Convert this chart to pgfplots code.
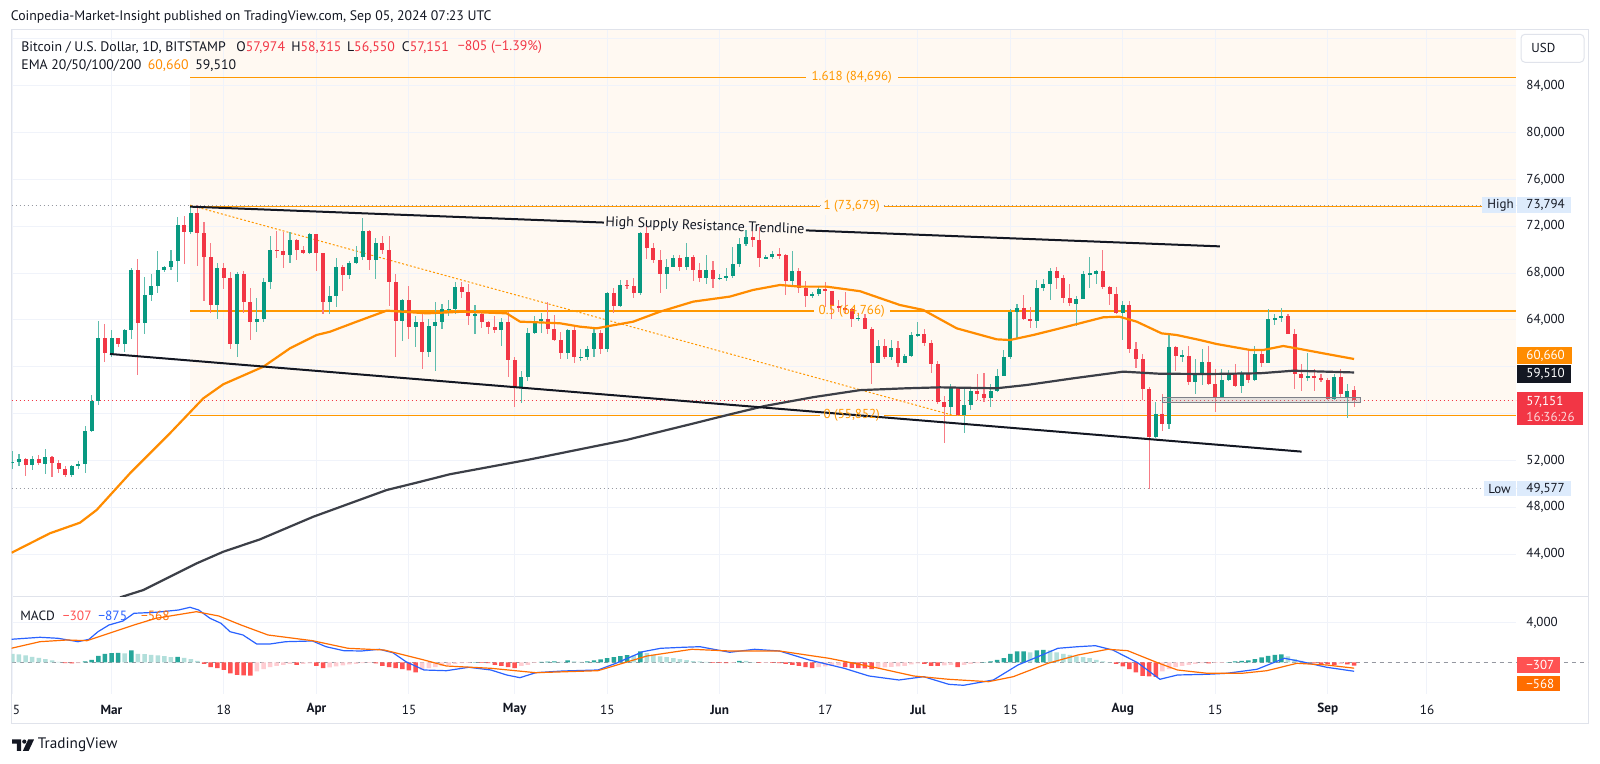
\documentclass[border=0pt]{standalone}
\usepackage{fontspec}
\setmainfont{PT Sans}
\usepackage{pgfplots}
\usepackage{pgfplotstable}
\pgfplotsset{compat=1.18}

\definecolor{txt}{HTML}{131722}
\definecolor{gridc}{HTML}{F0F3FA}
\definecolor{framec}{HTML}{E0E3EB}
\definecolor{cgreen}{HTML}{089981}
\definecolor{cred}{HTML}{F23645}
\definecolor{emaor}{HTML}{FF8C00}
\definecolor{fibor}{HTML}{FF9800}
\definecolor{emadk}{HTML}{3C3F47}
\definecolor{fibbg}{HTML}{FFF9F2}
\definecolor{hlbg}{HTML}{DDEBFC}
\definecolor{dotc}{HTML}{9598A1}
\definecolor{boxc}{HTML}{7E8088}
\definecolor{macdb}{HTML}{2962FF}
\definecolor{macds}{HTML}{FF6D00}
\definecolor{hpu}{HTML}{26A69A}
\definecolor{hpl}{HTML}{B2DFDB}
\definecolor{hnd}{HTML}{FF5252}
\definecolor{hnu}{HTML}{FFCDD2}

\newcommand\fs[1]{\fontsize{#1}{#1}\selectfont}

% daily candles, d = days since Mar 1 2024, k = 1 up / 0 down
\pgfplotstableread{
d o h l c k
-15 51800 52800 51300 51900 1
-14 51900 52550 51500 52100 1
-13 52100 52200 50650 51650 0
-12 51650 52350 51200 52100 1
-11 52100 52450 51600 51800 0
-10 51700 52950 50800 52250 1
-9 52250 52350 50600 51800 0
-8 51800 52000 50900 51250 0
-7 51250 51500 50550 50750 0
-6 50750 51650 50550 51550 1
-5 51550 51950 51300 51730 1
-4 51730 54900 50900 54480 1
-3 54480 57550 54450 57050 1
-2 57050 63900 56700 62450 1
-1 62450 63650 60400 61180 0
0 61180 63100 60800 62440 1
1 62440 62450 61700 61980 0
2 61980 63200 61300 63130 1
3 63130 68450 62400 68300 1
4 68300 69170 59300 63750 0
5 63750 67650 62800 66100 1
6 66100 67950 65600 66900 1
7 66900 69900 66300 68300 1
8 68300 68600 68100 68500 1
9 68500 70000 68300 69000 1
10 69000 72800 67200 72100 1
11 72100 72900 68800 71500 0
12 71500 73650 71300 73100 1
13 73100 73794 68600 71400 0
14 71400 72400 65600 69400 0
15 69400 70600 64600 65300 0
16 65300 68900 64100 68400 1
17 68400 68900 66600 67600 0
18 67600 68100 61500 61900 0
19 61900 68050 60800 67900 1
20 67900 68200 64600 65500 0
21 65500 66700 62300 63800 0
22 63800 65900 63000 64100 1
23 64100 67600 63800 67200 1
24 67200 71200 66600 70000 1
25 70000 71600 69300 69900 0
26 69900 71500 68400 69500 0
27 69500 71500 68900 70800 1
28 70800 70900 69100 70000 0
29 70000 70300 69600 69700 0
30 69700 71400 69600 71300 1
31 71300 71300 68200 69700 0
32 69700 69700 64500 65500 0
33 65500 66900 64500 66000 1
34 66000 69300 65100 68500 1
35 68500 68700 66500 67800 0
36 67800 69000 67500 68900 1
37 68900 70300 68800 69400 1
38 69400 72700 69100 71600 1
39 71600 71700 68300 69100 0
40 69100 71000 67500 70600 1
41 70600 71200 69600 70000 0
42 70000 71200 65200 67200 0
43 67200 67900 60800 63900 0
44 63900 65800 62200 65700 1
45 65700 66900 62400 63400 0
46 63400 64300 61700 63800 1
47 63800 64500 59800 61300 0
48 61300 64100 60800 63500 1
49 63500 65500 59600 63800 1
50 63800 65400 63200 64900 1
51 64900 65700 64300 64950 1
52 64950 67200 64500 66800 1
53 66800 67200 65900 66400 0
54 66400 67100 63600 64300 0
55 64300 65300 62800 64500 1
56 64500 64800 63300 63800 0
57 63800 63900 62800 63400 0
58 63400 64300 62900 63100 0
59 63100 64200 61800 63800 1
60 63800 64700 59100 60600 0
61 60600 60800 56550 58300 0
62 58300 59600 56900 59100 1
63 59100 63300 58800 62900 1
64 62900 64300 62800 63900 1
65 63900 64600 62900 64050 1
66 64050 65500 62800 63200 0
67 63200 64400 62200 62300 0
68 62300 63000 60700 61200 0
69 61200 63200 60700 63100 1
70 63100 63400 60300 60800 0
71 60800 61500 60500 60850 1
72 60850 61800 60600 61500 1
73 61500 63400 60800 62900 1
74 62900 63100 61100 61500 0
75 61500 66400 61300 66300 1
76 66300 66700 64600 65200 0
77 65200 67400 65100 67000 1
78 67000 67400 66600 66900 0
79 66900 67600 65900 66300 0
80 66300 71500 66100 71400 1
81 71400 71900 69200 70100 0
82 70100 70600 68900 69100 0
83 69100 70000 66300 67900 0
84 67900 69200 66600 68500 1
85 68500 69500 68500 69300 1
86 69300 69500 68200 68500 0
87 68500 70600 68300 69400 1
88 69400 69500 67300 68300 0
89 68300 68900 67200 67600 0
90 67600 69500 67100 68300 1
91 68300 69000 66700 67500 0
92 67500 67900 67400 67600 1
93 67600 68400 67300 67750 1
94 67750 70200 67600 68800 1
95 68800 71000 68500 70500 1
96 70500 71700 70300 71100 1
97 71100 71600 70200 70800 0
98 70800 71900 68500 69300 0
99 69300 69500 69200 69350 1
100 69350 69900 69200 69600 1
101 69600 70100 69200 69500 0
102 69500 69600 66100 67300 0
103 67300 69900 66900 68200 1
104 68200 68400 66300 66700 0
105 66700 67300 65100 66000 0
106 66000 66400 65900 66200 1
107 66200 66900 66000 66600 1
108 66600 67200 65100 66500 0
109 66500 66500 64100 65200 0
110 65200 65700 64700 65000 0
111 65000 66400 64500 64900 0
112 64900 65000 63400 64100 0
113 64100 64500 63900 64200 1
114 64200 64500 63200 63200 0
115 63200 63400 58500 60300 0
116 60300 62300 60300 61800 1
117 61800 62400 60700 60800 0
118 60800 62300 60600 61600 1
119 61600 62200 60000 60300 0
120 60300 61100 60300 60900 1
121 60900 63000 60800 62700 1
122 62700 63800 62500 62800 1
123 62800 63200 61800 62000 0
124 62000 62300 59500 60200 0
125 60200 60500 56800 57000 0
126 57000 57500 53500 56600 0
127 56600 58500 56000 58200 1
128 58200 58200 55800 55900 0
129 55900 58200 54300 56700 1
130 56700 58300 56300 57900 1
131 57900 59400 57200 57700 0
132 57700 59500 57000 57300 0
133 57300 58500 56600 57900 1
134 57900 59800 57800 59200 1
135 59200 61400 59200 60800 1
136 60800 64900 60700 64700 1
137 64700 65400 62400 65000 1
138 65000 66100 64000 64100 0
139 64100 65100 63300 63900 0
140 63900 67400 63300 66700 1
141 66700 67500 66500 67100 1
142 67100 68400 65700 68200 1
143 68200 68500 66600 67600 0
144 67600 67800 65400 65900 0
145 65900 67100 65200 65400 0
146 65400 66000 63500 65800 1
147 65800 68200 65800 67900 1
148 67900 69400 66700 67950 1
149 67950 68300 67100 68200 1
150 68200 70000 66600 66800 0
151 66800 66900 65300 66200 0
152 66200 66800 64500 64600 0
153 64600 65600 62300 65300 1
154 65300 65600 61200 61500 0
155 61500 62100 59900 60700 0
156 60700 61100 57200 58100 0
157 58100 58300 49577 54000 0
158 54000 57000 53900 56000 1
159 56000 57700 54500 55100 0
160 55100 62700 54700 61700 1
161 61700 61800 59600 60900 0
162 60900 61400 60400 60950 1
163 60950 61800 58400 58700 0
164 58700 60700 57700 59300 1
165 59300 61500 58400 60400 1
166 60400 61800 58400 58500 0
167 58500 59800 56100 57450 0
168 57450 59800 57400 58850 1
169 58850 59700 58800 59400 1
170 59400 60200 58300 58350 0
171 58350 59600 57800 59400 1
172 59400 61400 58600 58900 0
173 58900 61800 58800 61100 1
174 61100 61400 60000 60350 0
175 60350 64900 60300 64050 1
176 64050 64500 63600 64150 1
177 64150 65000 63800 64300 1
178 64300 64500 62800 62800 0
179 62800 63200 58100 59400 0
180 59400 60200 57900 59000 0
181 59000 61200 58800 59200 1
182 59200 59800 57900 59000 0
183 59000 59400 58700 58900 0
184 58900 59000 57200 57250 0
185 57250 59400 57200 59100 1
186 59100 59800 57400 57650 0
187 57400 58500 55600 57900 1
188 57974 58315 56550 57151 0
}\candles

\pgfplotstableread{
d v
-15.10 44120
-9.30 45780
-4.77 46680
-2.24 47770
2.80 50900
8.85 54320
13.89 57300
16.91 58500
22.97 60000
27.00 61570
31.04 62710
33.06 62990
37.10 63850
41.63 64790
47.69 64560
53.22 64700
59.79 64560
61.80 63850
65.84 63760
67.85 63710
70.88 63420
73.40 63280
78.94 63850
82.98 64700
88.02 65560
93.57 65990
97.10 66560
101.13 66980
104.16 66840
108.20 66840
113.24 66450
119.29 65270
122.81 64850
127.87 63280
133.92 62340
135.93 62280
139.46 62710
144.51 63420
150.05 64220
152.50 64270
155.10 63850
158.88 62850
161.15 62710
164.68 62280
167.20 61940
172.30 61430
174.25 61430
177.28 61770
179.30 61570
183.84 61090
188.00 60660
}\emafifty

\pgfplotstableread{
d v
1.29 40300
4.81 40930
12.89 43210
16.91 44200
22.47 45260
30.53 47190
36.08 48330
41.63 49470
46.17 50100
51.21 50820
63.46 52100
70.88 52950
77.94 53750
88.02 55150
94.07 56000
98.87 56650
106.17 57400
113.24 58000
120.30 58160
125.34 58240
133.92 58160
138.46 58440
145.51 59010
153.07 59580
158.62 59400
166.19 59380
173.75 59440
178.79 59660
188.00 59510
}\ematwo

\pgfplotstableread{
d v
-15.17 2320
-10.82 2520
-8.09 2420
-5.07 2080
-3.40 2320
-2.04 3080
-0.38 3750
1.74 4150
3.40 4920
6.73 5020
10.15 5250
11.88 5520
13.19 5250
14.90 4420
16.57 3920
17.93 3080
19.89 2750
21.97 1850
23.98 1850
26.35 2080
30.41 2150
32.45 1580
35.14 1180
37.84 1150
40.54 1320
42.57 980
44.55 80
47.28 -750
50.67 -820
54.05 -480
57.41 -750
59.79 -1250
61.80 -1520
64.18 -1020
68.23 -850
73.60 -750
76.32 -80
80.39 1080
83.09 1420
86.46 1520
89.03 1580
93.54 1020
97.29 1320
101.06 1150
105.58 250
110.85 -580
114.60 -1350
119.14 -1750
122.89 -1420
126.66 -2180
128.91 -2280
133.42 -1750
137.14 -250
140.17 580
143.19 1420
146.22 1580
148.85 1680
151.48 1250
155.25 -20
158.62 -1680
161.27 -1250
165.79 -1180
168.76 -1080
173.30 -680
177.46 420
180.09 80
183.86 -480
188.00 -875
}\macdline

\pgfplotstableread{
d v
-15.17 1420
-10.82 2080
-6.73 2250
-3.71 2180
3.40 3750
6.73 4420
12.84 5080
16.23 4650
19.59 3750
23.68 2750
30.41 2180
35.78 1420
41.23 1250
47.28 250
50.67 -350
57.41 -580
64.18 -1020
73.60 -820
81.01 650
87.82 1320
93.54 1150
101.06 1150
108.55 420
116.11 -580
121.38 -1350
126.66 -1680
132.68 -1920
136.43 -1420
141.68 -80
146.22 750
150.74 1320
153.74 1180
158.26 -20
161.27 -750
165.79 -1080
171.03 -1080
174.81 -820
179.35 -80
183.86 -250
188.00 -568
}\signal

% histogram, k: 1 up above zero, 2 falling above zero, 3 falling below zero, 4 rising below zero
\pgfplotstableread{
d v k
-15 870 2
-14 800 2
-13 700 2
-12 570 2
-11 470 2
-10 330 2
-9 200 2
-8 70 2
-7 -70 3
-6 -100 3
-5 -70 4
-4 100 1
-3 270 1
-2 670 1
-1 870 1
0 930 1
1 950 1
2 900 2
3 1200 1
4 870 2
5 830 2
6 770 2
7 700 2
8 630 2
9 530 2
10 560 1
11 470 2
12 330 2
13 170 2
14 -130 3
15 -470 3
16 -570 3
17 -730 3
18 -1100 3
19 -1230 3
20 -1300 3
21 -1320 3
22 -900 4
23 -670 4
24 -470 4
25 -330 4
26 -230 4
27 -130 4
28 -230 3
29 -130 4
30 -100 4
31 -330 3
32 -570 3
33 -500 4
34 -400 4
35 -300 4
36 -200 4
37 -130 4
38 -70 4
39 -30 4
40 -100 3
41 -330 3
42 -470 3
43 -570 3
44 -670 3
45 -800 3
46 -1000 3
47 -730 4
48 -570 4
49 -470 4
50 -330 4
51 -230 4
52 -130 4
53 -70 4
54 -30 4
55 30 1
56 -30 3
57 -70 3
58 -230 3
59 -330 3
60 -470 3
61 -570 3
62 -330 4
63 -230 4
64 -30 4
65 70 1
66 80 1
67 100 1
68 70 2
69 200 1
70 100 2
71 70 2
72 100 1
73 200 1
74 300 1
75 430 1
76 530 1
77 630 1
78 730 1
79 700 2
80 1100 1
81 930 2
82 770 2
83 600 2
84 530 2
85 430 2
86 330 2
87 230 2
88 130 2
89 100 2
90 70 2
91 -30 3
92 -50 3
93 -60 3
94 -30 4
95 170 1
96 150 2
97 30 2
98 -30 3
99 -30 4
100 -40 3
101 -70 3
102 -130 3
103 -230 3
104 -330 3
105 -470 3
106 -570 3
107 -470 4
108 -400 4
109 -330 4
110 -300 4
111 -470 3
112 -530 3
113 -570 3
114 -600 3
115 -670 3
116 -570 4
117 -500 4
118 -430 4
119 -400 4
120 -330 4
121 -200 4
122 -100 4
123 -150 3
124 -330 3
125 -340 3
126 -300 4
127 -250 4
128 -470 3
129 -230 4
130 -130 4
131 -70 4
132 30 1
133 100 1
134 270 1
135 430 1
136 870 1
137 1100 1
138 1120 1
139 1000 2
140 1200 1
141 1270 1
142 1200 2
143 1000 2
144 870 2
145 770 2
146 600 2
147 530 2
148 430 2
149 270 2
150 100 2
151 30 2
152 -130 3
153 -400 3
154 -670 3
155 -1000 3
156 -1330 3
157 -1400 3
158 -1450 3
159 -900 4
160 -670 4
161 -470 4
162 -330 4
163 -230 4
164 -130 4
165 -70 4
166 -80 3
167 -50 4
168 -30 4
169 30 1
170 100 1
171 170 1
172 200 1
173 330 1
174 500 1
175 670 1
176 770 1
177 800 1
178 600 2
179 330 2
180 170 2
181 30 2
182 -70 3
183 -130 3
184 -170 3
185 -230 3
186 -130 4
187 -200 3
188 -307 3
}\hist

\pgfplotsset{
  wick/.style={draw=none, error bars/.cd, y dir=both, y explicit, error mark=none,
    error bar style={draw=#1, line width=0.55pt}},
  body/.style={draw=none, error bars/.cd, y dir=both, y explicit, error mark=none,
    error bar style={draw=#1, line width=2pt}},
  hbar/.style={ybar, bar width=0.68, bar shift=0pt, fill=#1, draw=none},
}

\begin{document}
\begin{tikzpicture}[x=0.5pt,y=0.5pt]
\fill[white] (0,0) rectangle (1600,764);
% fib retracement zone
\fill[fibbg] (190,764-30.5) rectangle (1516,764-415.3);
\draw[framec, line width=0.5pt] (11.7,764-30) rectangle (1588,764-724);
\draw[framec, line width=0.5pt] (11.7,764-597) -- (1588,764-597);

% ---------------- price panel ----------------
\begin{axis}[
  at={(5.85pt,83.5pt)}, anchor=south west,
  width=752.15pt, height=283.25pt, scale only axis,
  xmin=-15.1, xmax=212.5, ymin=40336, ymax=88714,
  axis line style={draw=none},
  scaled ticks=false,
  xtick={-15,0,17,31,45,61,75,92,108,122,136,153,167,184,199},
  ytick={44000,48000,...,88000},
  xticklabels={}, yticklabels={},
  major tick length=0pt,
  xmajorgrids, ymajorgrids,
  grid style={draw=gridc, line width=0.5pt},
]
% high / low / last price lines
\addplot[dotc, line width=0.5pt, dash pattern=on 0.6pt off 1.4pt] coordinates {(-15.1,73794) (212.5,73794)};
\addplot[dotc, line width=0.5pt, dash pattern=on 0.6pt off 1.4pt] coordinates {(-15.1,49577) (212.5,49577)};
\addplot[cred, line width=0.5pt, dash pattern=on 0.6pt off 1.4pt] coordinates {(-15.1,57151) (212.5,57151)};

% fib levels
\addplot[fibor, line width=0.75pt] coordinates {(11.88,84696) (105.08,84696)};
\addplot[fibor, line width=0.75pt] coordinates {(119.0,84696) (212.5,84696)};
\addplot[fibor, line width=0.75pt] coordinates {(11.88,73679) (107.2,73679)};
\addplot[fibor, line width=0.75pt] coordinates {(116.9,73679) (212.5,73679)};
\addplot[fibor, line width=0.75pt] coordinates {(11.88,64766) (106.3,64766)};
\addplot[fibor, line width=0.75pt] coordinates {(117.8,64766) (212.5,64766)};
\addplot[fibor, line width=0.75pt] coordinates {(11.88,55852) (107.2,55852)};
\addplot[fibor, line width=0.75pt] coordinates {(116.9,55852) (212.5,55852)};
\addplot[fibor, line width=0.5pt, dash pattern=on 1pt off 1pt] coordinates {(11.88,73794) (127.3,55852)};

% candles: wicks then bodies
\addplot[restrict expr to domain={\thisrow{k}}{0.5:1.5}, wick=cgreen!65]
  table[x=d, y expr={(\thisrow{h}+\thisrow{l})/2}, y error expr={(\thisrow{h}-\thisrow{l})/2}] {\candles};
\addplot[restrict expr to domain={\thisrow{k}}{-0.5:0.5}, wick=cred!65]
  table[x=d, y expr={(\thisrow{h}+\thisrow{l})/2}, y error expr={(\thisrow{h}-\thisrow{l})/2}] {\candles};
\addplot[restrict expr to domain={\thisrow{k}}{0.5:1.5}, body=cgreen]
  table[x=d, y expr={(\thisrow{o}+\thisrow{c})/2}, y error expr={max(abs(\thisrow{c}-\thisrow{o})/2,45)}] {\candles};
\addplot[restrict expr to domain={\thisrow{k}}{-0.5:0.5}, body=cred]
  table[x=d, y expr={(\thisrow{o}+\thisrow{c})/2}, y error expr={max(abs(\thisrow{c}-\thisrow{o})/2,45)}] {\candles};

% moving averages
\addplot[emadk, line width=1.1pt] table[x=d, y=v] {\ematwo};
\addplot[emaor, line width=1.1pt] table[x=d, y=v] {\emafifty};

% trendlines
\addplot[txt, line width=1pt] coordinates {(11.88,73670) (74.51,72311)};
\addplot[txt, line width=1pt] coordinates {(105.07,71644) (167.68,70278)};
\addplot[txt, line width=1pt] coordinates {(-0.23,61090) (180.06,52750)};

% support box
\draw[draw=boxc, fill=dotc, fill opacity=0.25, line width=0.7pt] (axis cs:159,56930) rectangle (axis cs:189,57390);

\node[text=fibor, font=\fs{6.5pt}] at (axis cs:112,84696) {1.618 (84,696)};
\node[text=fibor, font=\fs{6.5pt}, fill=fibbg, inner sep=1pt] at (axis cs:112,73679) {1 (73,679)};
\node[text=fibor, font=\fs{6.5pt}] at (axis cs:112,64766) {0.5 (64,766)};
\node[text=fibor, font=\fs{6.5pt}] at (axis cs:112,55852) {0 (55,852)};
\node[text=txt, font=\fs{7pt}, rotate=-2.2] at (axis cs:89.8,71977) {High Supply Resistance Trendline};
\end{axis}

% ---------------- MACD panel ----------------
\begin{axis}[
  at={(5.85pt,35pt)}, anchor=south west,
  width=752.15pt, height=48.5pt, scale only axis,
  xmin=-15.1, xmax=212.5, ymin=-3150, ymax=6550,
  axis line style={draw=none},
  scaled ticks=false,
  xtick={-15,0,17,31,45,61,75,92,108,122,136,153,167,184,199},
  ytick={4000},
  xticklabels={}, yticklabels={},
  major tick length=0pt,
  xmajorgrids, ymajorgrids,
  grid style={draw=gridc, line width=0.5pt},
]
\addplot[dotc, line width=0.5pt, dash pattern=on 2pt off 2pt] coordinates {(-15.1,0) (212.5,0)};
\addplot[restrict expr to domain={\thisrow{k}}{0.5:1.5}, hbar=hpu] table[x=d, y=v] {\hist};
\addplot[restrict expr to domain={\thisrow{k}}{1.5:2.5}, hbar=hpl] table[x=d, y=v] {\hist};
\addplot[restrict expr to domain={\thisrow{k}}{2.5:3.5}, hbar=hnd] table[x=d, y=v] {\hist};
\addplot[restrict expr to domain={\thisrow{k}}{3.5:4.5}, hbar=hnu] table[x=d, y=v] {\hist};
\addplot[macdb, line width=0.6pt] table[x=d, y=v] {\macdline};
\addplot[macds, line width=0.6pt] table[x=d, y=v] {\signal};
\end{axis}

\draw[dotc, line width=0.5pt, dash pattern=on 2pt off 2pt] (1516,764-662.5) -- (1588,764-662.5);

% ---------------- header ----------------
\begin{scope}[every node/.style={anchor=west, inner sep=0pt, text=txt}]
\node[font=\fs{6.9pt}] at (10.5,764-17) {Coinpedia-Market-Insight published on TradingView.com, Sep 05, 2024 07:23 UTC};
\node[font=\fs{6.9pt}] at (21,764-47.5) {Bitcoin / U.S. Dollar, 1D, BITSTAMP};
\node[font=\fs{6.9pt}] at (236,764-47.5) {O\textcolor{cred}{57,974}};
\node[font=\fs{6.9pt}] at (291,764-47.5) {H\textcolor{cred}{58,315}};
\node[font=\fs{6.9pt}] at (346.7,764-47.5) {L\textcolor{cred}{56,550}};
\node[font=\fs{6.9pt}] at (401.5,764-47.5) {C\textcolor{cred}{57,151}};
\node[font=\fs{6.9pt}, text=cred] at (457.5,764-47.5) {−805 (−1.39\%)};
\node[font=\fs{6.9pt}] at (21,764-65.7) {EMA 20/50/100/200};
\node[font=\fs{6.9pt}, text=emaor] at (147.5,764-65.7) {60,660};
\node[font=\fs{6.9pt}] at (195,764-65.7) {59,510};
% MACD legend
\node[font=\fs{6.7pt}] at (20,764-615.5) {MACD};
\node[font=\fs{6.7pt}, text=hnd] at (62.5,764-615.5) {−307};
\node[font=\fs{6.7pt}, text=macdb] at (98,764-615.5) {−875};
\node[font=\fs{6.7pt}, text=macds] at (140.6,764-615.5) {−568};

% ---------------- price scale ----------------
\draw[framec, fill=white, rounded corners=2pt, line width=0.5pt] (1521,764-34.3) rectangle (1584,764-62.3);
\node[font=\fs{6.5pt}] at (1531,764-48.3) {USD};
\foreach \p/\yy in {{84,000}/85.7, {80,000}/132.5, {76,000}/179.4, {72,000}/226.2, {68,000}/273.1, {64,000}/319.9, {52,000}/460.4, {48,000}/507.3, {44,000}/554.1}
  \node[font=\fs{6.5pt}] at (1526,764-\yy) {\p};
\node[font=\fs{6.5pt}] at (1526,764-622.5) {4,000};

\fill[hlbg] (1482,764-197.5) rectangle (1516,764-213);
\node[font=\fs{6.5pt}] at (1487,764-205.2) {High};
\fill[hlbg] (1517,764-197.5) rectangle (1571,764-213);
\node[font=\fs{6.5pt}] at (1526,764-205.2) {73,794};

\fill[hlbg] (1484,764-481) rectangle (1516,764-496.5);
\node[font=\fs{6.5pt}] at (1488,764-488.8) {Low};
\fill[hlbg] (1517,764-481) rectangle (1571,764-496.5);
\node[font=\fs{6.5pt}] at (1526,764-488.8) {49,577};

\fill[emaor] (1517,764-347) rectangle (1572,764-364);
\node[font=\fs{6.5pt}, text=white] at (1526,764-355.5) {60,660};
\fill[txt] (1517,764-364.6) rectangle (1571,764-382.6);
\node[font=\fs{6.5pt}, text=white] at (1526,764-373.6) {59,510};
\fill[cred] (1517,764-392.4) rectangle (1583,764-425.3);
\node[font=\fs{6.5pt}, text=white] at (1526,764-401.5) {57,151};
\node[font=\fs{6.5pt}, text=white!80!cred] at (1526,764-416.5) {16:36:26};

\fill[hnd] (1517,764-657.4) rectangle (1560,764-673.2);
\node[font=\fs{6.5pt}, text=white] at (1526,764-665.3) {−307};
\fill[macds] (1517,764-676) rectangle (1560,764-691.5);
\node[font=\fs{6.5pt}, text=white] at (1526,764-683.7) {−568};
\end{scope}

% ---------------- dates ----------------
\begin{scope}[every node/.style={inner sep=0pt, text=txt, font=\fs{6.6pt}}]
\node at (16.5,764-709.5) {5};
\node[font=\fs{6.6pt}\bfseries] at (111.5,764-709.5) {Mar};
\node at (223.9,764-709.5) {18};
\node[font=\fs{6.6pt}\bfseries] at (316.4,764-709.5) {Apr};
\node at (409,764-709.5) {15};
\node[font=\fs{6.6pt}\bfseries] at (514.7,764-709.5) {May};
\node at (607.3,764-709.5) {15};
\node[font=\fs{6.6pt}\bfseries] at (719.6,764-709.5) {Jun};
\node at (825.4,764-709.5) {17};
\node[font=\fs{6.6pt}\bfseries] at (918,764-709.5) {Jul};
\node at (1010.5,764-709.5) {15};
\node[font=\fs{6.6pt}\bfseries] at (1122.8,764-709.5) {Aug};
\node at (1215.4,764-709.5) {15};
\node[font=\fs{6.6pt}\bfseries] at (1327.7,764-709.5) {Sep};
\node at (1427,764-709.5) {16};
\end{scope}

% ---------------- footer logo ----------------
\fill[txt] (12,764-739.5) -- (21,764-739.5) -- (21,764-751) -- (16.8,764-751) -- (16.8,764-743.7) -- (12,764-743.7) -- cycle;
\fill[txt] (24.3,764-741.6) circle (2.1);
\fill[txt] (28.2,764-739.5) -- (34,764-739.5) -- (28.6,764-751) -- (22.8,764-751) -- cycle;
\node[anchor=west, inner sep=0pt, text=txt, font=\fs{7.6pt}] at (37.5,764-745) {TradingView};

\pgfresetboundingbox
\path[use as bounding box] (0,0) rectangle (1600,764);
\end{tikzpicture}
\end{document}
